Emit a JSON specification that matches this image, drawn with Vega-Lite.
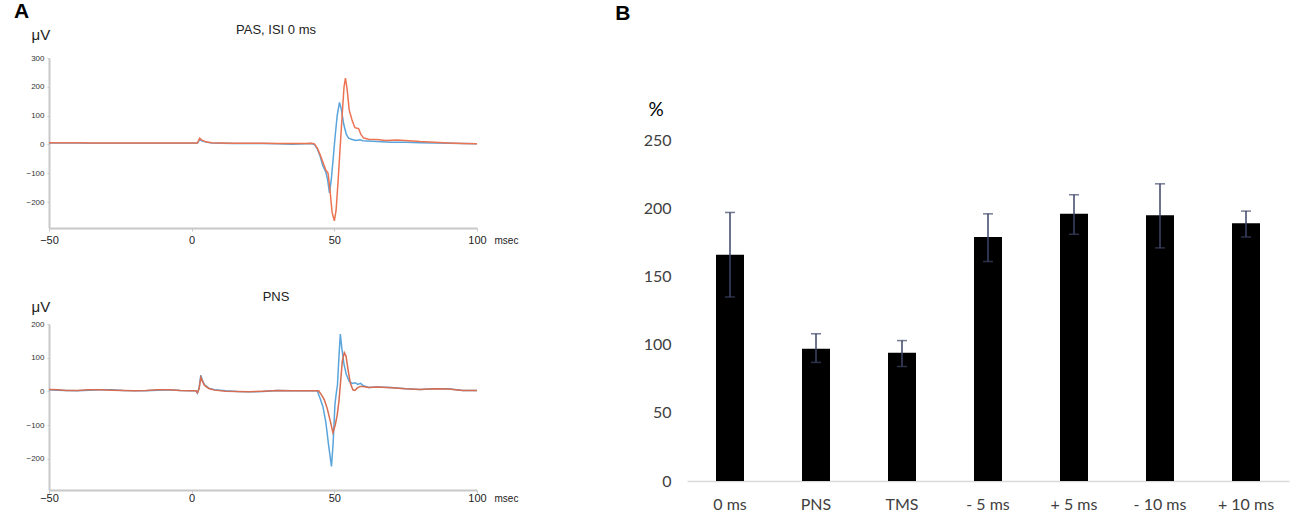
{
  "$schema": "https://vega.github.io/schema/vega-lite/v6.json",
  "background": "white",
  "padding": {"left": 13, "top": 1, "right": 5, "bottom": 5},
  "spacing": 97,
  "config": {
    "view": {"stroke": null},
    "font": "Liberation Sans"
  },
  "datasets": {
    "pas": [
      {"s": "blue", "t": -50, "v": 5}, {"s": "blue", "t": -45, "v": 5}, {"s": "blue", "t": -40, "v": 5}, {"s": "blue", "t": -35, "v": 4},
      {"s": "blue", "t": -30, "v": 4}, {"s": "blue", "t": -25, "v": 4}, {"s": "blue", "t": -20, "v": 4}, {"s": "blue", "t": -15, "v": 4},
      {"s": "blue", "t": -10, "v": 4}, {"s": "blue", "t": -5, "v": 4}, {"s": "blue", "t": 0, "v": 4}, {"s": "blue", "t": 2, "v": 4},
      {"s": "blue", "t": 2.8, "v": 17}, {"s": "blue", "t": 3.5, "v": 13}, {"s": "blue", "t": 5, "v": 8}, {"s": "blue", "t": 7, "v": 5},
      {"s": "blue", "t": 10, "v": 4}, {"s": "blue", "t": 15, "v": 3}, {"s": "blue", "t": 20, "v": 3}, {"s": "blue", "t": 25, "v": 3},
      {"s": "blue", "t": 30, "v": 2}, {"s": "blue", "t": 35, "v": 1}, {"s": "blue", "t": 40, "v": 2}, {"s": "blue", "t": 42, "v": 3},
      {"s": "blue", "t": 43, "v": 0}, {"s": "blue", "t": 44, "v": -15}, {"s": "blue", "t": 45, "v": -40}, {"s": "blue", "t": 46, "v": -75},
      {"s": "blue", "t": 47, "v": -95}, {"s": "blue", "t": 47.6, "v": -120}, {"s": "blue", "t": 48.3, "v": -168}, {"s": "blue", "t": 48.9, "v": -125},
      {"s": "blue", "t": 49.5, "v": -60}, {"s": "blue", "t": 50.3, "v": 30}, {"s": "blue", "t": 51, "v": 100}, {"s": "blue", "t": 51.8, "v": 146},
      {"s": "blue", "t": 52.5, "v": 120}, {"s": "blue", "t": 53.3, "v": 70}, {"s": "blue", "t": 54.2, "v": 35}, {"s": "blue", "t": 55, "v": 22},
      {"s": "blue", "t": 56, "v": 18}, {"s": "blue", "t": 57.5, "v": 14}, {"s": "blue", "t": 59, "v": 16}, {"s": "blue", "t": 60, "v": 13},
      {"s": "blue", "t": 65, "v": 10}, {"s": "blue", "t": 70, "v": 8}, {"s": "blue", "t": 75, "v": 8}, {"s": "blue", "t": 80, "v": 6},
      {"s": "blue", "t": 85, "v": 5}, {"s": "blue", "t": 90, "v": 4}, {"s": "blue", "t": 95, "v": 3}, {"s": "blue", "t": 100, "v": 2},
      {"s": "red", "t": -50, "v": 6}, {"s": "red", "t": -45, "v": 6}, {"s": "red", "t": -40, "v": 6}, {"s": "red", "t": -35, "v": 5},
      {"s": "red", "t": -30, "v": 5}, {"s": "red", "t": -25, "v": 5}, {"s": "red", "t": -20, "v": 5}, {"s": "red", "t": -15, "v": 5},
      {"s": "red", "t": -10, "v": 5}, {"s": "red", "t": -5, "v": 5}, {"s": "red", "t": 0, "v": 5}, {"s": "red", "t": 2, "v": 5},
      {"s": "red", "t": 2.8, "v": 22}, {"s": "red", "t": 3.6, "v": 15}, {"s": "red", "t": 5, "v": 9}, {"s": "red", "t": 7, "v": 6},
      {"s": "red", "t": 10, "v": 5}, {"s": "red", "t": 15, "v": 4}, {"s": "red", "t": 20, "v": 4}, {"s": "red", "t": 25, "v": 4},
      {"s": "red", "t": 30, "v": 3}, {"s": "red", "t": 35, "v": 3}, {"s": "red", "t": 40, "v": 3}, {"s": "red", "t": 42, "v": 4},
      {"s": "red", "t": 43, "v": 2}, {"s": "red", "t": 44, "v": -12}, {"s": "red", "t": 45, "v": -35}, {"s": "red", "t": 46, "v": -62},
      {"s": "red", "t": 47, "v": -88}, {"s": "red", "t": 47.8, "v": -100}, {"s": "red", "t": 48.5, "v": -160}, {"s": "red", "t": 49.2, "v": -235},
      {"s": "red", "t": 50, "v": -265}, {"s": "red", "t": 50.6, "v": -230}, {"s": "red", "t": 51.3, "v": -130}, {"s": "red", "t": 52.1, "v": 0},
      {"s": "red", "t": 52.8, "v": 110}, {"s": "red", "t": 53.4, "v": 200}, {"s": "red", "t": 53.9, "v": 230}, {"s": "red", "t": 54.5, "v": 190},
      {"s": "red", "t": 55.2, "v": 120}, {"s": "red", "t": 56.2, "v": 85}, {"s": "red", "t": 57.2, "v": 58}, {"s": "red", "t": 58.5, "v": 55},
      {"s": "red", "t": 59.3, "v": 35}, {"s": "red", "t": 60.3, "v": 22}, {"s": "red", "t": 62, "v": 18}, {"s": "red", "t": 65, "v": 17},
      {"s": "red", "t": 68, "v": 14}, {"s": "red", "t": 72, "v": 15}, {"s": "red", "t": 76, "v": 13}, {"s": "red", "t": 80, "v": 10},
      {"s": "red", "t": 85, "v": 8}, {"s": "red", "t": 90, "v": 5}, {"s": "red", "t": 95, "v": 3}, {"s": "red", "t": 100, "v": 2}
    ],
    "pns": [
      {"s": "blue", "t": -50, "v": 5}, {"s": "blue", "t": -47, "v": 4}, {"s": "blue", "t": -44, "v": 3}, {"s": "blue", "t": -40, "v": 2},
      {"s": "blue", "t": -36, "v": 4}, {"s": "blue", "t": -32, "v": 5}, {"s": "blue", "t": -28, "v": 5}, {"s": "blue", "t": -24, "v": 3},
      {"s": "blue", "t": -20, "v": 2}, {"s": "blue", "t": -16, "v": 2}, {"s": "blue", "t": -12, "v": 4}, {"s": "blue", "t": -8, "v": 5},
      {"s": "blue", "t": -4, "v": 3}, {"s": "blue", "t": 0, "v": 2}, {"s": "blue", "t": 1.5, "v": 2}, {"s": "blue", "t": 2, "v": -5},
      {"s": "blue", "t": 2.6, "v": 10}, {"s": "blue", "t": 3.2, "v": 48}, {"s": "blue", "t": 3.8, "v": 32}, {"s": "blue", "t": 4.5, "v": 20},
      {"s": "blue", "t": 6, "v": 10}, {"s": "blue", "t": 8, "v": 5}, {"s": "blue", "t": 12, "v": 2}, {"s": "blue", "t": 16, "v": 0},
      {"s": "blue", "t": 20, "v": -1}, {"s": "blue", "t": 25, "v": 0}, {"s": "blue", "t": 30, "v": 3}, {"s": "blue", "t": 35, "v": 2},
      {"s": "blue", "t": 40, "v": 2}, {"s": "blue", "t": 44, "v": 2}, {"s": "blue", "t": 45, "v": -20}, {"s": "blue", "t": 46, "v": -45},
      {"s": "blue", "t": 47, "v": -90}, {"s": "blue", "t": 48, "v": -160}, {"s": "blue", "t": 49, "v": -222}, {"s": "blue", "t": 49.6, "v": -150},
      {"s": "blue", "t": 50.2, "v": -40}, {"s": "blue", "t": 50.6, "v": -10}, {"s": "blue", "t": 51.1, "v": 20}, {"s": "blue", "t": 51.6, "v": 100},
      {"s": "blue", "t": 52.1, "v": 170}, {"s": "blue", "t": 52.6, "v": 130}, {"s": "blue", "t": 53.4, "v": 80}, {"s": "blue", "t": 54.2, "v": 50},
      {"s": "blue", "t": 55.2, "v": 30}, {"s": "blue", "t": 56.3, "v": 24}, {"s": "blue", "t": 57.3, "v": 26}, {"s": "blue", "t": 58.2, "v": 21},
      {"s": "blue", "t": 59.2, "v": 24}, {"s": "blue", "t": 60, "v": 18}, {"s": "blue", "t": 62, "v": 12}, {"s": "blue", "t": 65, "v": 13},
      {"s": "blue", "t": 70, "v": 12}, {"s": "blue", "t": 75, "v": 8}, {"s": "blue", "t": 80, "v": 6}, {"s": "blue", "t": 85, "v": 8},
      {"s": "blue", "t": 90, "v": 8}, {"s": "blue", "t": 95, "v": 3}, {"s": "blue", "t": 100, "v": 3},
      {"s": "red", "t": -50, "v": 6}, {"s": "red", "t": -47, "v": 5}, {"s": "red", "t": -44, "v": 3}, {"s": "red", "t": -40, "v": 3},
      {"s": "red", "t": -36, "v": 5}, {"s": "red", "t": -32, "v": 5}, {"s": "red", "t": -28, "v": 4}, {"s": "red", "t": -24, "v": 3},
      {"s": "red", "t": -20, "v": 2}, {"s": "red", "t": -16, "v": 3}, {"s": "red", "t": -12, "v": 5}, {"s": "red", "t": -8, "v": 5},
      {"s": "red", "t": -4, "v": 3}, {"s": "red", "t": 0, "v": 2}, {"s": "red", "t": 1.5, "v": 2}, {"s": "red", "t": 2, "v": -4},
      {"s": "red", "t": 2.6, "v": 8}, {"s": "red", "t": 3.2, "v": 42}, {"s": "red", "t": 3.8, "v": 30}, {"s": "red", "t": 4.5, "v": 18},
      {"s": "red", "t": 6, "v": 9}, {"s": "red", "t": 8, "v": 4}, {"s": "red", "t": 12, "v": 1}, {"s": "red", "t": 16, "v": 0},
      {"s": "red", "t": 20, "v": -1}, {"s": "red", "t": 25, "v": 1}, {"s": "red", "t": 30, "v": 3}, {"s": "red", "t": 35, "v": 2},
      {"s": "red", "t": 40, "v": 2}, {"s": "red", "t": 44.5, "v": 2}, {"s": "red", "t": 45.5, "v": -10}, {"s": "red", "t": 46.5, "v": -25},
      {"s": "red", "t": 47.5, "v": -50}, {"s": "red", "t": 48.5, "v": -85}, {"s": "red", "t": 49.5, "v": -122}, {"s": "red", "t": 50.3, "v": -100},
      {"s": "red", "t": 51, "v": -70}, {"s": "red", "t": 51.6, "v": -30}, {"s": "red", "t": 52.2, "v": 30}, {"s": "red", "t": 52.8, "v": 90},
      {"s": "red", "t": 53.5, "v": 115}, {"s": "red", "t": 54.1, "v": 105}, {"s": "red", "t": 54.8, "v": 65}, {"s": "red", "t": 55.6, "v": 25},
      {"s": "red", "t": 56.5, "v": 5}, {"s": "red", "t": 57.2, "v": 3}, {"s": "red", "t": 58, "v": 10}, {"s": "red", "t": 59, "v": 15},
      {"s": "red", "t": 60, "v": 15}, {"s": "red", "t": 62, "v": 12}, {"s": "red", "t": 65, "v": 13}, {"s": "red", "t": 70, "v": 11},
      {"s": "red", "t": 75, "v": 8}, {"s": "red", "t": 80, "v": 6}, {"s": "red", "t": 85, "v": 8}, {"s": "red", "t": 90, "v": 7},
      {"s": "red", "t": 95, "v": 3}, {"s": "red", "t": 100, "v": 3}
    ],
    "mep": [
      {"cond": "0 ms", "mean": 166, "lo": 135, "hi": 197},
      {"cond": "PNS", "mean": 97, "lo": 87, "hi": 108},
      {"cond": "TMS", "mean": 94, "lo": 84, "hi": 103},
      {"cond": "- 5 ms", "mean": 179, "lo": 161, "hi": 196},
      {"cond": "+ 5 ms", "mean": 196, "lo": 181, "hi": 210},
      {"cond": "- 10 ms", "mean": 195, "lo": 171, "hi": 218},
      {"cond": "+ 10 ms", "mean": 189, "lo": 179, "hi": 198}
    ]
  },
  "hconcat": [
    {
      "title": {"text": "A", "anchor": "start", "fontSize": 21, "fontWeight": "bold", "color": "black", "dx": -12, "offset": 2},
      "bounds": "flush",
      "spacing": 96,
      "vconcat": [
        {
          "width": 428,
          "height": 170,
          "title": {"text": "PAS, ISI 0 ms", "fontSize": 13, "fontWeight": "normal", "color": "#222", "dx": 13, "offset": 0, "dy": 10},
          "data": {"name": "pas"},
          "encoding": {
            "x": {
              "field": "t", "type": "quantitative",
              "scale": {"domain": [-50, 100], "nice": false, "zero": false},
              "axis": {
                "values": [-50, 0, 50, 100], "grid": false, "title": "msec",
                "titleX": 445, "titleY": 12, "titleAlign": "left", "titleBaseline": "middle",
                "titleFontSize": 10, "titleFontWeight": "normal", "titleColor": "#222",
                "labelFontSize": 11, "labelColor": "#222", "labelPadding": 3, "labelFlush": false,
                "domainColor": "#c8c8c8", "domainWidth": 2, "tickColor": "#c8c8c8", "tickSize": 3
              }
            },
            "y": {
              "field": "v", "type": "quantitative",
              "scale": {"domain": [-290, 300], "nice": false},
              "axis": {
                "values": [-200, -100, 0, 100, 200, 300], "grid": false, "title": "μV",
                "titleAngle": 0, "titleX": -18, "titleY": -24, "titleAlign": "left", "titleBaseline": "middle",
                "titleFontSize": 15, "titleFontWeight": "normal", "titleColor": "#222",
                "labelFontSize": 8, "labelColor": "#333", "labelPadding": 3,
                "domainColor": "#c8c8c8", "domainWidth": 2, "tickColor": "#c8c8c8", "tickSize": 2
              }
            }
          },
          "layer": [
            {"transform": [{"filter": "datum.s === 'blue'"}], "mark": {"type": "line", "color": "#5aa5dc", "strokeWidth": 1.5}},
            {"transform": [{"filter": "datum.s === 'red'"}], "mark": {"type": "line", "color": "#ec7452", "strokeWidth": 1.5}}
          ]
        },
        {
          "width": 428,
          "height": 166,
          "title": {"text": "PNS", "fontSize": 13, "fontWeight": "normal", "color": "#222", "dx": 13, "offset": 0, "dy": 5},
          "data": {"name": "pns"},
          "encoding": {
            "x": {
              "field": "t", "type": "quantitative",
              "scale": {"domain": [-50, 100], "nice": false, "zero": false},
              "axis": {
                "values": [-50, 0, 50, 100], "grid": false, "title": "msec",
                "titleX": 445, "titleY": 8, "titleAlign": "left", "titleBaseline": "middle",
                "titleFontSize": 10, "titleFontWeight": "normal", "titleColor": "#222",
                "labelFontSize": 11, "labelColor": "#222", "labelPadding": -1, "labelFlush": false,
                "domainColor": "#c8c8c8", "domainWidth": 2, "tickColor": "#c8c8c8", "tickSize": 3
              }
            },
            "y": {
              "field": "v", "type": "quantitative",
              "scale": {"domain": [-292, 200], "nice": false},
              "axis": {
                "values": [-200, -100, 0, 100, 200], "grid": false, "title": "μV",
                "titleAngle": 0, "titleX": -18, "titleY": -18, "titleAlign": "left", "titleBaseline": "middle",
                "titleFontSize": 15, "titleFontWeight": "normal", "titleColor": "#222",
                "labelFontSize": 8, "labelColor": "#333", "labelPadding": 3,
                "domainColor": "#c8c8c8", "domainWidth": 2, "tickColor": "#c8c8c8", "tickSize": 2
              }
            }
          },
          "layer": [
            {"transform": [{"filter": "datum.s === 'blue'"}], "mark": {"type": "line", "color": "#5aa5dc", "strokeWidth": 1.5}},
            {"transform": [{"filter": "datum.s === 'red'"}], "mark": {"type": "line", "color": "#d86c50", "strokeWidth": 1.5}}
          ]
        }
      ]
    },
    {
      "width": 602,
      "height": 423,
      "title": {"text": "B", "anchor": "start", "fontSize": 21, "fontWeight": "bold", "color": "black", "dx": -28, "offset": 34},
      "data": {"name": "mep"},
      "encoding": {
        "x": {
          "field": "cond", "type": "nominal", "sort": null,
          "scale": {"paddingInner": 0, "paddingOuter": 0},
          "axis": {
            "title": null, "labelAngle": 0, "ticks": false, "grid": false,
            "labelFont": "Lato", "labelFontSize": 16, "labelColor": "#404040", "labelPadding": 15,
            "domainColor": "#d9d9d9", "domainWidth": 1.5
          }
        }
      },
      "layer": [
        {
          "mark": {"type": "bar", "color": "black", "size": 28},
          "encoding": {
            "y": {
              "field": "mean", "type": "quantitative",
              "scale": {"domain": [0, 310.3], "nice": false},
              "axis": {
                "values": [0, 50, 100, 150, 200, 250], "title": "%", "grid": false, "domain": false, "ticks": false,
                "titleAngle": 0, "titleX": -39, "titleY": 51, "titleAlign": "left", "titleBaseline": "middle",
                "titleFont": "Lato", "titleFontSize": 19, "titleFontWeight": "normal", "titleColor": "black",
                "labelFont": "Lato", "labelFontSize": 16, "labelColor": "#404040", "labelPadding": 16
              }
            }
          }
        },
        {
          "mark": {"type": "rule", "color": "#3c4566", "strokeWidth": 1.5},
          "encoding": {"y": {"field": "lo", "type": "quantitative"}, "y2": {"field": "hi"}}
        },
        {
          "mark": {"type": "tick", "color": "#3c4566", "thickness": 1.5, "size": 10},
          "encoding": {"y": {"field": "hi", "type": "quantitative"}}
        },
        {
          "mark": {"type": "tick", "color": "#3c4566", "thickness": 1.5, "size": 10},
          "encoding": {"y": {"field": "lo", "type": "quantitative"}}
        }
      ]
    }
  ]
}
